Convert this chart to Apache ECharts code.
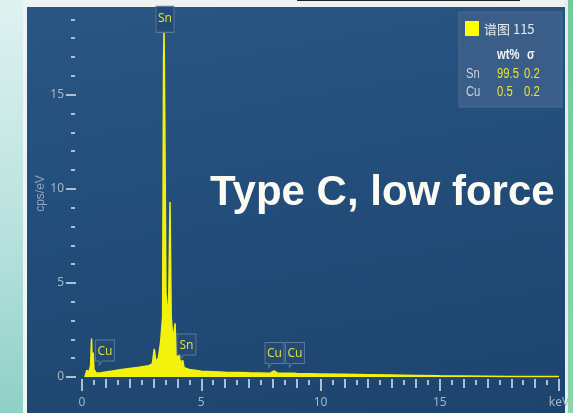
<!DOCTYPE html>
<html>
<head>
<meta charset="utf-8">
<script src="https://cdn.jsdelivr.net/npm/echarts@6/dist/echarts.min.js"></script>
<style>
  html, body { margin: 0; padding: 0; width: 573px; height: 413px; overflow: hidden; background: #d6eeec; }
  .bg { position: absolute; }
  #left { left: 0; top: 0; width: 23px; height: 413px; background: linear-gradient(180deg, #dff2f1 0%, #b9e2de 55%, #8fd0c6 100%); }
  #leftEdge { left: 23px; top: 0; width: 4px; height: 413px; background: #eef6f5; }
  #top { left: 23px; top: 0; width: 545px; height: 7px; background: #eef2f0; }
  #topLine { left: 297px; top: 0; width: 223px; height: 1px; background: #222; }
  #panel { left: 27px; top: 7px; width: 538px; height: 406px; background: linear-gradient(170deg, #2a5684 0%, #234d7a 45%, #1d446e 100%); }
  #rightEdge { left: 565px; top: 0; width: 3px; height: 413px; background: #e4efe9; }
  #right { left: 568px; top: 0; width: 5px; height: 413px; background: linear-gradient(180deg, #74c99a, #8cd4aa); }
  #chart { position: absolute; left: 0; top: 0; width: 573px; height: 413px; }
</style>
</head>
<body>
<div class="bg" id="left"></div>
<div class="bg" id="leftEdge"></div>
<div class="bg" id="top"></div>
<div class="bg" id="topLine"></div>
<div class="bg" id="panel"></div>
<div class="bg" id="rightEdge"></div>
<div class="bg" id="right"></div>
<div id="chart"></div>
<script>
// EDS spectrum (谱图 115) — energy in keV, intensity in cps/eV
const energy = [0.12, 0.2, 0.3, 0.36, 0.4, 0.43, 0.47, 0.5, 0.6, 0.8, 1.0, 1.3, 1.6, 2.0, 2.4, 2.8, 2.95, 3.03, 3.1, 3.2,
  3.3, 3.38, 3.42, 3.44, 3.47, 3.52, 3.58, 3.64, 3.69, 3.74, 3.8, 3.86, 3.9, 3.95, 4.02, 4.08, 4.14, 4.22, 4.28, 4.5, 5.0, 5.5,
  6.0, 7.0, 7.9, 8.05, 8.2, 8.9, 9.0, 10, 11, 12, 13, 14, 15, 16, 17, 18, 19, 20];
const cps = [0, 0.35, 0.3, 0.6, 2.05, 0.7, 1.3, 0.4, 0.2, 0.22, 0.26, 0.32, 0.38, 0.45, 0.52, 0.6, 0.7, 1.5, 0.8, 1.0,
  1.9, 3.2, 17.0, 18.4, 14.0, 4.5, 3.0, 4.5, 9.3, 3.2, 2.2, 2.4, 2.85, 1.4, 1.0, 1.2, 0.7, 0.9, 0.5, 0.4, 0.3, 0.28,
  0.25, 0.22, 0.2, 0.32, 0.2, 0.2, 0.18, 0.16, 0.14, 0.12, 0.1, 0.08, 0.06, 0.05, 0.04, 0.03, 0.02, 0.02];

// peak markers: element, energy, height of marker centre
const peakNames = ['Sn', 'Cu', 'Sn', 'Cu', 'Cu'];
const peakKeV = [3.48, 0.96, 4.38, 8.07, 8.93];
const peakCps = [19.0, 1.3, 1.62, 1.17, 1.17];

// quantification table
const quantElements = ['Sn', 'Cu'];
const quantWt = ['99.5', '0.5'];
const quantSigma = ['0.2', '0.2'];

// axis ticks
const xLabelTicks = [0, 5, 10, 15, 20];
const xIntTicks = [1, 2, 3, 4, 6, 7, 8, 9, 11, 12, 13, 14, 16, 17, 18, 19];
const xHalfTicks = [0.5, 1.5, 2.5, 3.5, 4.5, 5.5, 6.5, 7.5, 8.5, 9.5, 10.5, 11.5, 12.5, 13.5, 14.5, 15.5, 16.5, 17.5, 18.5, 19.5];
const yLabelTicks = [0, 5, 10, 15];
const yMinorTicks = [1, 2, 3, 4, 6, 7, 8, 9, 11, 12, 13, 14, 16, 17, 18, 19];

const tickColor = '#aebfd2';
const labelColor = '#a3b6cb';
const specColor = '#f2f20c';
const narrow = '"Liberation Sans Narrow", "Noto Sans"';

const chart = echarts.init(document.getElementById('chart'), null, { renderer: 'canvas' });

const xBase = { type: 'value', min: 0, max: 20, position: 'bottom', splitLine: { show: false }, axisLine: { show: false, onZero: false } };
const yBase = { type: 'value', min: 0, max: 19.5, position: 'left', splitLine: { show: false }, axisLine: { show: false, onZero: false } };

// condensed table text, as in the instrument software
const cellText = (x, y, text, fill, bold) => ({
  type: 'text', x, y, z: 11, scaleX: 0.75,
  style: { text, fill, font: (bold ? 'bold ' : '') + '15px "Liberation Sans", "Noto Sans"', verticalAlign: 'middle' },
});

const rows = [];
quantElements.forEach((el, i) => {
  const y = 74 + i * 18;
  rows.push(cellText(466, y, el, '#c9d5e2'));
  rows.push(cellText(497, y, quantWt[i], '#e4e43a'));
  rows.push(cellText(524, y, quantSigma[i], '#e4e43a'));
});

const pinPath = 'path://M0,0 H20 V21 H7 L4,25 L4,21 H0 Z';

chart.setOption({
  backgroundColor: 'transparent',
  animation: false,
  grid: { left: 82, right: 14, top: 10, bottom: 36 },
  xAxis: [
    Object.assign({}, xBase, {
      offset: 2,
      axisTick: { show: true, customValues: xLabelTicks, length: 12, lineStyle: { color: tickColor, width: 2 } },
      axisLabel: {
        customValues: xLabelTicks, color: labelColor, fontSize: 12, margin: 18, fontFamily: narrow,
        formatter: v => (v === 20 ? 'keV' : String(v)),
      },
    }),
    Object.assign({}, xBase, {
      offset: 2,
      axisTick: { show: true, customValues: xIntTicks, length: 9, lineStyle: { color: tickColor, width: 2 } },
      axisLabel: { show: false },
    }),
    Object.assign({}, xBase, {
      offset: 3,
      axisTick: { show: true, customValues: xHalfTicks, length: 5, lineStyle: { color: tickColor, width: 2 } },
      axisLabel: { show: false },
    }),
  ],
  yAxis: [
    Object.assign({}, yBase, {
      offset: 6,
      name: 'cps/eV',
      nameLocation: 'middle',
      nameGap: 29,
      nameMoveOverlap: false,
      nameTextStyle: { color: '#8ea6c0', fontSize: 12 },
      axisTick: { show: true, customValues: yLabelTicks, length: 10, lineStyle: { color: tickColor, width: 2 } },
      axisLabel: { customValues: yLabelTicks, color: labelColor, fontSize: 12, margin: 12, fontFamily: narrow },
    }),
    Object.assign({}, yBase, {
      offset: 7,
      axisTick: { show: true, customValues: yMinorTicks, length: 4, lineStyle: { color: tickColor, width: 2 } },
      axisLabel: { show: false },
    }),
  ],
  series: [
    {
      type: 'line',
      xAxisIndex: 0,
      yAxisIndex: 0,
      data: energy.map((e, i) => [e, cps[i]]),
      symbol: 'none',
      smooth: false,
      lineStyle: { color: specColor, width: 1.5 },
      areaStyle: { color: specColor, opacity: 1 },
      z: 2,
      markPoint: {
        silent: true,
        data: peakNames.map((n, i) => ({
          name: n,
          coord: [peakKeV[i], peakCps[i]],
          symbol: i === 0 ? 'rect' : pinPath,
          symbolSize: i === 0 ? [18, 26] : [19, 25],
        })),
        symbolKeepAspect: false,
        itemStyle: { color: '#244b75', borderColor: '#5d7c9c', borderWidth: 1 },
        label: {
          show: true, position: 'inside', offset: [0, -1], formatter: '{b}',
          color: '#d6de3e', fontSize: 12, fontFamily: narrow,
        },
      },
    },
  ],
  graphic: [
    { type: 'rect', shape: { x: 459, y: 12, width: 103, height: 95 }, style: { fill: '#3a5e87', stroke: '#4b6e95', lineWidth: 1 }, z: 10 },
    { type: 'rect', shape: { x: 465, y: 21, width: 14, height: 15 }, style: { fill: '#ffff00' }, z: 11 },
    { type: 'text', x: 484, y: 29, z: 11, style: { text: '谱图 115', fill: '#e3e9ef', font: '13px "Noto Sans CJK SC"', verticalAlign: 'middle' } },
    cellText(497, 55, 'wt%', '#f2f4f6', true),
    cellText(527, 55, 'σ', '#f2f4f6', true),
    ...rows,
    { type: 'text', x: 210, y: 193, z: 12, style: { text: 'Type C, low force', fill: '#fbfbf3', font: 'bold 42px "Liberation Sans", Arial', verticalAlign: 'middle' } },
  ],
});
</script>
</body>
</html>
